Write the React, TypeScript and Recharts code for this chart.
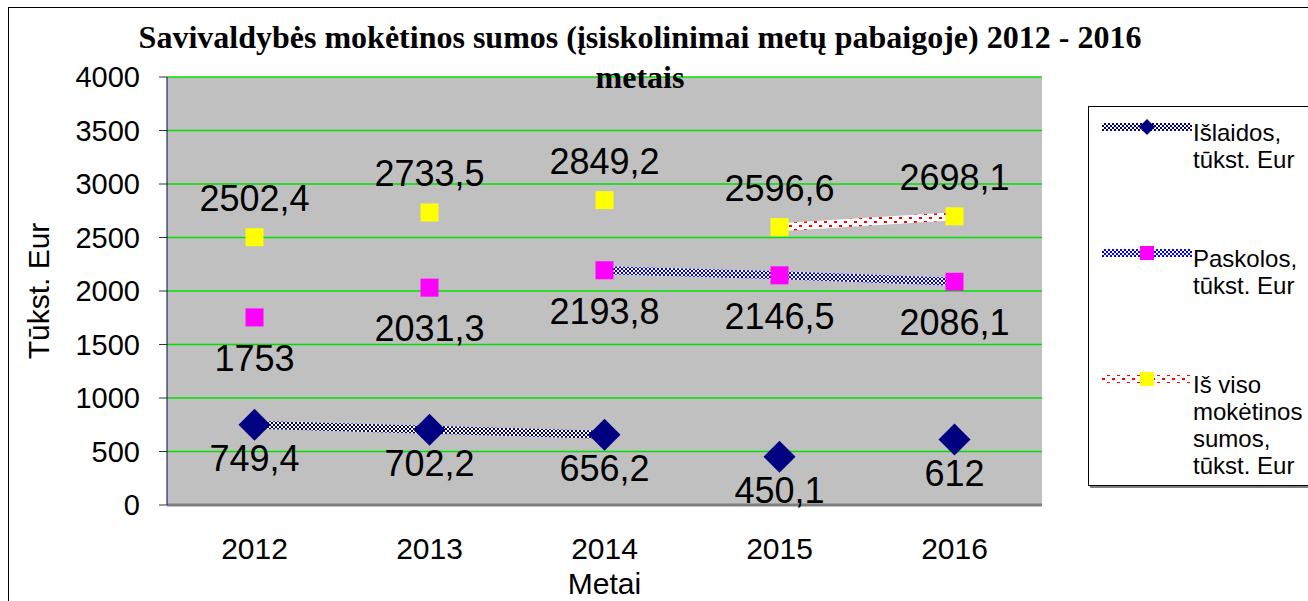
import React from 'react';
import { LineChart, Line, XAxis, YAxis, CartesianGrid, Legend, LabelList } from 'recharts';

const years = ['2012', '2013', '2014', '2015', '2016'];
const islaidos = [749.4, 702.2, 656.2, 450.1, 612];
const paskolos = [1753, 2031.3, 2193.8, 2146.5, 2086.1];
const isViso = [2502.4, 2733.5, 2849.2, 2596.6, 2698.1];
// in the original only some neighbouring points are joined by a line
const islaidosJoined = [true, true, true, false, false];
const paskolosJoined = [false, false, true, true, true];
const isVisoJoined = [false, false, false, true, true];
const yTicks = [0, 500, 1000, 1500, 2000, 2500, 3000, 3500, 4000];

const data = years.map((year, i) => ({
  year,
  islaidos: islaidos[i],
  paskolos: paskolos[i],
  isViso: isViso[i],
  islaidosLine: islaidosJoined[i] ? islaidos[i] : null,
  paskolosLine: paskolosJoined[i] ? paskolos[i] : null,
  isVisoLine: isVisoJoined[i] ? isViso[i] : null,
}));

const SANS = '"Liberation Sans", Arial, sans-serif';

const SERIES: Record<string, { shape: string; color: string; pattern: string }> = {
  islaidos: { shape: 'diamond', color: '#000080', pattern: 'patNavy' },
  paskolos: { shape: 'square', color: '#ff00ff', pattern: 'patBlue' },
  isViso: { shape: 'square', color: '#ffff00', pattern: 'patRed' },
};
const LEGEND_ORDER = ['islaidos', 'paskolos', 'isViso'];

const fmt = (v: number) => String(v).replace('.', ',');

// r = half diagonal of the diamond, sq = side of the square
const marker = (shape: string, color: string, cx: number, cy: number, key: string, r: number, sq: number) =>
  shape === 'diamond' ? (
    <path key={key} d={`M${cx} ${cy - r}L${cx + r} ${cy}L${cx} ${cy + r}L${cx - r} ${cy}Z`} fill={color} />
  ) : (
    <rect key={key} x={cx - sq / 2} y={cy - sq / 2} width={sq} height={sq} fill={color} />
  );

const dotFor = (key: string) => (p: any) => {
  const s = SERIES[key];
  return marker(s.shape, s.color, p.cx, p.cy, `${key}-dot-${p.index}`, 16, 18);
};

const valueLabel = (dy: number) => (p: any) => (
  <text
    x={p.x}
    y={p.y + dy}
    textAnchor="middle"
    dominantBaseline="central"
    fontSize={36}
    fontFamily={SANS}
    fill="#000"
  >
    {fmt(p.value)}
  </text>
);

const Patterns = () => (
  <defs>
    <pattern id="patNavy" width={4} height={4} patternUnits="userSpaceOnUse">
      <rect width={4} height={4} fill="#fff" />
      <rect width={2} height={2} fill="#000080" />
      <rect x={2} y={2} width={2} height={2} fill="#000080" />
    </pattern>
    <pattern id="patBlue" width={4} height={4} patternUnits="userSpaceOnUse">
      <rect width={4} height={4} fill="#fff" />
      <rect width={2} height={2} fill="#0000ff" />
      <rect x={2} y={2} width={2} height={2} fill="#0000ff" />
    </pattern>
    <pattern id="patRed" width={10} height={8} patternUnits="userSpaceOnUse">
      <rect width={10} height={8} fill="#fff" />
      <rect x={0} y={1} width={3} height={2} fill="#ff0000" />
      <rect x={5} y={5} width={3} height={2} fill="#ff0000" />
    </pattern>
  </defs>
);

const renderLegend = (props: any) => {
  const items = LEGEND_ORDER.map((k) => (props.payload || []).find((e: any) => e.dataKey === k)).filter(Boolean);
  return (
    <div
      style={{
        position: 'relative',
        width: 240,
        height: 380,
        background: '#fff',
        border: '1px solid #000',
        boxShadow: '2px 2px 0 #808080',
        boxSizing: 'border-box',
        fontFamily: SANS,
        fontSize: 24,
        lineHeight: '27px',
        color: '#000',
      }}
    >
      {items.map((entry: any, i: number) => {
        const s = SERIES[entry.dataKey];
        const top = 20 + i * 126;
        return (
          <div key={entry.dataKey}>
            <svg width={90} height={20} style={{ position: 'absolute', left: 13, top: top - 10 }}>
              <rect x={0} y={6} width={90} height={8} fill={`url(#${s.pattern})`} />
              {marker(s.shape, s.color, 45, 10, 'm', 8, 14)}
            </svg>
            <div style={{ position: 'absolute', left: 104, top: top - 8, whiteSpace: 'pre-line' }}>
              {entry.value}
            </div>
          </div>
        );
      })}
    </div>
  );
};

export default function App() {
  return (
    <div
      style={{
        position: 'fixed',
        left: 8,
        top: 7,
        width: 1300,
        height: 594,
        borderLeft: '1px solid #000',
        borderTop: '1px solid #000',
        boxSizing: 'border-box',
        overflow: 'hidden',
        background: '#fff',
      }}
    >
      <LineChart width={1299} height={593} data={data} margin={{ top: 69, right: 266, bottom: 36, left: 58 }}>
        <Patterns />
        <CartesianGrid vertical={false} stroke="#00e000" strokeWidth={1.5} fill="#c0c0c0" />
        <XAxis
          dataKey="year"
          padding={{ left: 87.5, right: 87.5 }}
          interval={0}
          height={60}
          tickLine={false}
          tickSize={0}
          tickMargin={33}
          tick={{ fontSize: 30, fill: '#000', fontFamily: SANS }}
          axisLine={{ stroke: '#808080', strokeWidth: 3 }}
          label={{
            content: (p: any) => (
              <text
                x={p.viewBox.x + p.viewBox.width / 2}
                y={p.viewBox.y + 78}
                textAnchor="middle"
                dominantBaseline="central"
                fontSize={30}
                fontFamily={SANS}
                fill="#000"
              >
                Metai
              </text>
            ),
          }}
        />
        <YAxis
          domain={[0, 4000]}
          ticks={yTicks}
          interval={0}
          width={100}
          tickSize={8}
          tickMargin={19}
          tick={{ fontSize: 29, fill: '#000', fontFamily: SANS }}
          tickLine={{ stroke: '#333' }}
          axisLine={{ stroke: '#000066' }}
          label={{
            content: (p: any) => {
              const cx = p.viewBox.x - 29;
              const cy = p.viewBox.y + p.viewBox.height / 2;
              return (
                <text
                  x={cx}
                  y={cy}
                  transform={`rotate(-90 ${cx} ${cy})`}
                  textAnchor="middle"
                  dominantBaseline="central"
                  fontSize={30}
                  fontFamily={SANS}
                  fill="#000"
                >
                  Tūkst. Eur
                </text>
              );
            },
          }}
        />
        <Legend
          layout="vertical"
          align="center"
          verticalAlign="middle"
          content={renderLegend}
          wrapperStyle={{ left: 1079, top: 98, width: 240, height: 380 }}
        />
        <Line dataKey="islaidosLine" stroke="url(#patNavy)" strokeWidth={8} dot={false} activeDot={false} legendType="none" isAnimationActive={false} />
        <Line dataKey="paskolosLine" stroke="url(#patBlue)" strokeWidth={8} dot={false} activeDot={false} legendType="none" isAnimationActive={false} />
        <Line dataKey="isVisoLine" stroke="url(#patRed)" strokeWidth={8} dot={false} activeDot={false} legendType="none" isAnimationActive={false} />
        <Line dataKey="islaidos" name={'Išlaidos,\ntūkst. Eur'} stroke="none" strokeWidth={0} dot={dotFor('islaidos')} activeDot={false} isAnimationActive={false}>
          <LabelList dataKey="islaidos" content={valueLabel(34)} />
        </Line>
        <Line dataKey="paskolos" name={'Paskolos,\ntūkst. Eur'} stroke="none" strokeWidth={0} dot={dotFor('paskolos')} activeDot={false} isAnimationActive={false}>
          <LabelList dataKey="paskolos" content={valueLabel(41)} />
        </Line>
        <Line dataKey="isViso" name={'Iš viso\nmokėtinos\nsumos,\ntūkst. Eur'} stroke="none" strokeWidth={0} dot={dotFor('isViso')} activeDot={false} isAnimationActive={false}>
          <LabelList dataKey="isViso" content={valueLabel(-39)} />
        </Line>
      </LineChart>
      <div
        style={{
          position: 'absolute',
          left: 0,
          top: 9,
          width: 1262,
          textAlign: 'center',
          fontFamily: '"Liberation Serif", "Times New Roman", serif',
          fontWeight: 'bold',
          fontSize: 32,
          lineHeight: '40px',
          color: '#000',
          pointerEvents: 'none',
        }}
      >
        Savivaldybės mokėtinos sumos (įsiskolinimai metų pabaigoje) 2012 - 2016
        <br />
        metais
      </div>
    </div>
  );
}
